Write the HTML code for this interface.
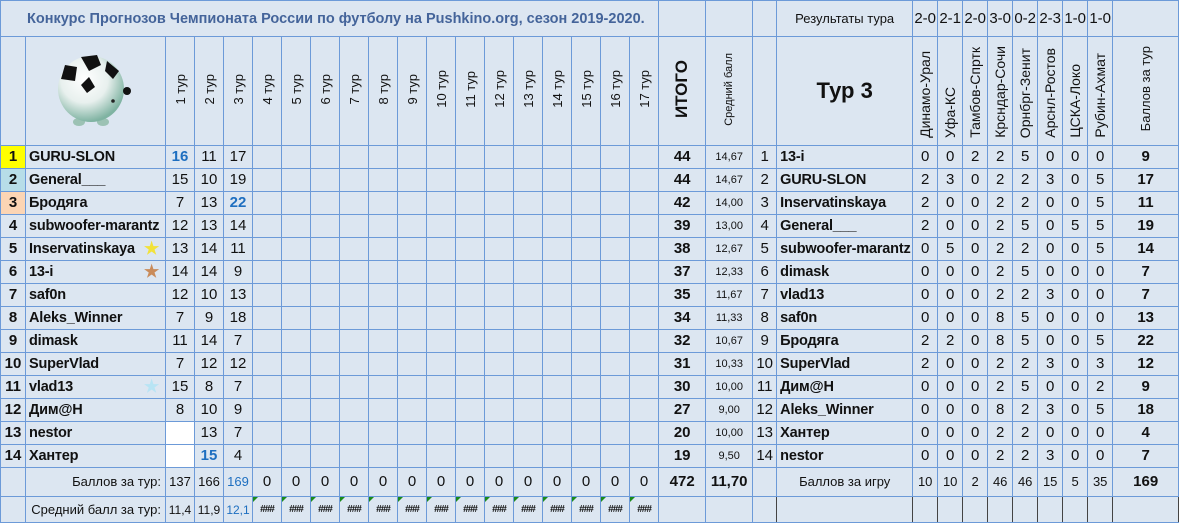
<!DOCTYPE html>
<html><head><meta charset="utf-8">
<style>
body{margin:0;background:#fff;width:1182px;height:526px;overflow:hidden;font-family:"Liberation Sans",Arial,sans-serif;}
table{border-collapse:collapse;table-layout:fixed;width:1178px;background:#dce6f1;position:absolute;left:0;top:0px;}
td{border:1px solid #6c9ad8;padding:0;text-align:center;font-size:15px;color:#111;white-space:nowrap;overflow:hidden;height:22px;line-height:22px;}
td.n{text-align:left;font-weight:bold;padding-left:3px;position:relative;font-size:14.5px;letter-spacing:-0.2px}
td.rk{font-weight:bold}
td.b{font-weight:bold}
td.bl{color:#1e6fc0;font-weight:bold}
td.a{font-size:11px}
td.n2{text-align:left;font-weight:bold;padding-left:3px;font-size:14.5px;letter-spacing:-0.2px}
.v{writing-mode:vertical-rl;transform:rotate(180deg);display:inline-block;font-size:13px;}
tr.h td{height:105px;line-height:normal}
td.mh{vertical-align:bottom;padding-bottom:3px}
.star{position:absolute;right:6px;top:2px;font-size:17px;line-height:17px}
td.hash{position:relative;font-size:10px;font-weight:bold;letter-spacing:-1px}
td.hash:before{content:"";position:absolute;left:0;top:0;border-top:5px solid #1a8a1a;border-right:5px solid transparent}
td.dk{border-left:1px solid #444;border-right:1px solid #444}
</style></head><body>
<table>
<colgroup>
<col style="width:25px"><col style="width:140px">
<col style="width:29px"><col style="width:29px"><col style="width:29px"><col style="width:29px"><col style="width:29px"><col style="width:29px"><col style="width:29px"><col style="width:29px"><col style="width:29px"><col style="width:29px"><col style="width:29px"><col style="width:29px"><col style="width:29px"><col style="width:29px"><col style="width:29px"><col style="width:29px"><col style="width:29px">
<col style="width:47px"><col style="width:47px"><col style="width:24px"><col style="width:136px">
<col style="width:25px"><col style="width:25px"><col style="width:25px"><col style="width:25px"><col style="width:25px"><col style="width:25px"><col style="width:25px"><col style="width:25px">
<col style="width:66px">
</colgroup>
<tr style="height:36px"><td colspan="19" style="height:35px;text-align:left;padding-left:26px;font-weight:bold;color:#44649a;font-size:14.5px">Конкурс Прогнозов Чемпионата России по футболу на Pushkino.org, сезон 2019-2020.</td><td></td><td></td><td></td><td style="font-size:13px">Результаты тура</td><td>2-0</td><td>2-1</td><td>2-0</td><td>3-0</td><td>0-2</td><td>2-3</td><td>1-0</td><td>1-0</td><td></td></tr>
<tr class="h"><td></td><td><svg width="90" height="80" viewBox="0 0 90 80"><defs><radialGradient id="g" cx="40%" cy="35%" r="65%"><stop offset="0" stop-color="#ffffff"/><stop offset="0.55" stop-color="#e8f0ee"/><stop offset="1" stop-color="#7fb3a2"/></radialGradient></defs><ellipse cx="28" cy="73" rx="6" ry="4" fill="#9cc2b4"/><ellipse cx="52" cy="73" rx="6" ry="4" fill="#9cc2b4"/><circle cx="40" cy="40" r="33" fill="url(#g)"/><path d="M10 30 L14 16 L26 18 L24 32 Z M30 8 L46 6 L50 16 L38 22 Z M56 12 L68 22 L62 30 L54 22 Z M30 36 L38 28 L44 38 L36 44 Z" fill="#111"/><circle cx="76" cy="42" r="4" fill="#111"/><circle cx="62" cy="52" r="1.8" fill="#222"/></svg></td>
<td><span class="v">1 тур</span></td><td><span class="v">2 тур</span></td><td><span class="v">3 тур</span></td><td><span class="v">4 тур</span></td><td><span class="v">5 тур</span></td><td><span class="v">6 тур</span></td><td><span class="v">7 тур</span></td><td><span class="v">8 тур</span></td><td><span class="v">9 тур</span></td><td><span class="v">10 тур</span></td><td><span class="v">11 тур</span></td><td><span class="v">12 тур</span></td><td><span class="v">13 тур</span></td><td><span class="v">14 тур</span></td><td><span class="v">15 тур</span></td><td><span class="v">16 тур</span></td><td><span class="v">17 тур</span></td>
<td><span class="v" style="font-size:17px;font-weight:bold">ИТОГО</span></td><td><span class="v" style="font-size:11px">Средний балл</span></td><td></td><td style="font-size:22px;font-weight:bold">Тур 3</td>
<td class="mh"><span class="v" style="font-size:14px">Динамо-Урал</span></td><td class="mh"><span class="v" style="font-size:14px">Уфа-КС</span></td><td class="mh"><span class="v" style="font-size:14px">Тамбов-Спртк</span></td><td class="mh"><span class="v" style="font-size:14px">Крсндар-Сочи</span></td><td class="mh"><span class="v" style="font-size:14px">Орнбрг-Зенит</span></td><td class="mh"><span class="v" style="font-size:14px">Арснл-Ростов</span></td><td class="mh"><span class="v" style="font-size:14px">ЦСКА-Локо</span></td><td class="mh"><span class="v" style="font-size:14px">Рубин-Ахмат</span></td><td><span class="v">Баллов за тур</span></td></tr>

<tr><td class="rk" style="background:#ffff00">1</td><td class="n">GURU-SLON</td><td class="bl">16</td><td>11</td><td>17</td><td></td><td></td><td></td><td></td><td></td><td></td><td></td><td></td><td></td><td></td><td></td><td></td><td></td><td></td><td class="b">44</td><td class="a">14,67</td><td>1</td><td class="n2">13-i</td><td>0</td><td>0</td><td>2</td><td>2</td><td>5</td><td>0</td><td>0</td><td>0</td><td class="b">9</td></tr>
<tr><td class="rk" style="background:#b7dde8">2</td><td class="n">General___</td><td>15</td><td>10</td><td>19</td><td></td><td></td><td></td><td></td><td></td><td></td><td></td><td></td><td></td><td></td><td></td><td></td><td></td><td></td><td class="b">44</td><td class="a">14,67</td><td>2</td><td class="n2">GURU-SLON</td><td>2</td><td>3</td><td>0</td><td>2</td><td>2</td><td>3</td><td>0</td><td>5</td><td class="b">17</td></tr>
<tr><td class="rk" style="background:#fcd5b4">3</td><td class="n">Бродяга</td><td>7</td><td>13</td><td class="bl">22</td><td></td><td></td><td></td><td></td><td></td><td></td><td></td><td></td><td></td><td></td><td></td><td></td><td></td><td></td><td class="b">42</td><td class="a">14,00</td><td>3</td><td class="n2">Inservatinskaya</td><td>2</td><td>0</td><td>0</td><td>2</td><td>2</td><td>0</td><td>0</td><td>5</td><td class="b">11</td></tr>
<tr><td class="rk">4</td><td class="n">subwoofer-marantz</td><td>12</td><td>13</td><td>14</td><td></td><td></td><td></td><td></td><td></td><td></td><td></td><td></td><td></td><td></td><td></td><td></td><td></td><td></td><td class="b">39</td><td class="a">13,00</td><td>4</td><td class="n2">General___</td><td>2</td><td>0</td><td>0</td><td>2</td><td>5</td><td>0</td><td>5</td><td>5</td><td class="b">19</td></tr>
<tr><td class="rk">5</td><td class="n">Inservatinskaya<span class="star" style="color:#f2e23a">★</span></td><td>13</td><td>14</td><td>11</td><td></td><td></td><td></td><td></td><td></td><td></td><td></td><td></td><td></td><td></td><td></td><td></td><td></td><td></td><td class="b">38</td><td class="a">12,67</td><td>5</td><td class="n2">subwoofer-marantz</td><td>0</td><td>5</td><td>0</td><td>2</td><td>2</td><td>0</td><td>0</td><td>5</td><td class="b">14</td></tr>
<tr><td class="rk">6</td><td class="n">13-i<span class="star" style="color:#c98b5a">★</span></td><td>14</td><td>14</td><td>9</td><td></td><td></td><td></td><td></td><td></td><td></td><td></td><td></td><td></td><td></td><td></td><td></td><td></td><td></td><td class="b">37</td><td class="a">12,33</td><td>6</td><td class="n2">dimask</td><td>0</td><td>0</td><td>0</td><td>2</td><td>5</td><td>0</td><td>0</td><td>0</td><td class="b">7</td></tr>
<tr><td class="rk">7</td><td class="n">saf0n</td><td>12</td><td>10</td><td>13</td><td></td><td></td><td></td><td></td><td></td><td></td><td></td><td></td><td></td><td></td><td></td><td></td><td></td><td></td><td class="b">35</td><td class="a">11,67</td><td>7</td><td class="n2">vlad13</td><td>0</td><td>0</td><td>0</td><td>2</td><td>2</td><td>3</td><td>0</td><td>0</td><td class="b">7</td></tr>
<tr><td class="rk">8</td><td class="n">Aleks_Winner</td><td>7</td><td>9</td><td>18</td><td></td><td></td><td></td><td></td><td></td><td></td><td></td><td></td><td></td><td></td><td></td><td></td><td></td><td></td><td class="b">34</td><td class="a">11,33</td><td>8</td><td class="n2">saf0n</td><td>0</td><td>0</td><td>0</td><td>8</td><td>5</td><td>0</td><td>0</td><td>0</td><td class="b">13</td></tr>
<tr><td class="rk">9</td><td class="n">dimask</td><td>11</td><td>14</td><td>7</td><td></td><td></td><td></td><td></td><td></td><td></td><td></td><td></td><td></td><td></td><td></td><td></td><td></td><td></td><td class="b">32</td><td class="a">10,67</td><td>9</td><td class="n2">Бродяга</td><td>2</td><td>2</td><td>0</td><td>8</td><td>5</td><td>0</td><td>0</td><td>5</td><td class="b">22</td></tr>
<tr><td class="rk">10</td><td class="n">SuperVlad</td><td>7</td><td>12</td><td>12</td><td></td><td></td><td></td><td></td><td></td><td></td><td></td><td></td><td></td><td></td><td></td><td></td><td></td><td></td><td class="b">31</td><td class="a">10,33</td><td>10</td><td class="n2">SuperVlad</td><td>2</td><td>0</td><td>0</td><td>2</td><td>2</td><td>3</td><td>0</td><td>3</td><td class="b">12</td></tr>
<tr><td class="rk">11</td><td class="n">vlad13<span class="star" style="color:#b8e4f4">★</span></td><td>15</td><td>8</td><td>7</td><td></td><td></td><td></td><td></td><td></td><td></td><td></td><td></td><td></td><td></td><td></td><td></td><td></td><td></td><td class="b">30</td><td class="a">10,00</td><td>11</td><td class="n2">Дим@Н</td><td>0</td><td>0</td><td>0</td><td>2</td><td>5</td><td>0</td><td>0</td><td>2</td><td class="b">9</td></tr>
<tr><td class="rk">12</td><td class="n">Дим@Н</td><td>8</td><td>10</td><td>9</td><td></td><td></td><td></td><td></td><td></td><td></td><td></td><td></td><td></td><td></td><td></td><td></td><td></td><td></td><td class="b">27</td><td class="a">9,00</td><td>12</td><td class="n2">Aleks_Winner</td><td>0</td><td>0</td><td>0</td><td>8</td><td>2</td><td>3</td><td>0</td><td>5</td><td class="b">18</td></tr>
<tr><td class="rk">13</td><td class="n">nestor</td><td style="background:#fff"></td><td>13</td><td>7</td><td></td><td></td><td></td><td></td><td></td><td></td><td></td><td></td><td></td><td></td><td></td><td></td><td></td><td></td><td class="b">20</td><td class="a">10,00</td><td>13</td><td class="n2">Хантер</td><td>0</td><td>0</td><td>0</td><td>2</td><td>2</td><td>0</td><td>0</td><td>0</td><td class="b">4</td></tr>
<tr><td class="rk">14</td><td class="n">Хантер</td><td style="background:#fff"></td><td class="bl">15</td><td>4</td><td></td><td></td><td></td><td></td><td></td><td></td><td></td><td></td><td></td><td></td><td></td><td></td><td></td><td></td><td class="b">19</td><td class="a">9,50</td><td>14</td><td class="n2">nestor</td><td>0</td><td>0</td><td>0</td><td>2</td><td>2</td><td>3</td><td>0</td><td>0</td><td class="b">7</td></tr>
<tr style="height:29px"><td style="height:28px"></td><td style="text-align:right;padding-right:4px;font-size:13px">Баллов за тур:</td><td style="font-size:13px">137</td><td style="font-size:13px">166</td><td style="font-size:13px;color:#1e6fc0">169</td><td>0</td><td>0</td><td>0</td><td>0</td><td>0</td><td>0</td><td>0</td><td>0</td><td>0</td><td>0</td><td>0</td><td>0</td><td>0</td><td>0</td><td class="b">472</td><td class="b">11,70</td><td></td><td style="font-size:13px">Баллов за игру</td><td style="font-size:13px">10</td><td style="font-size:13px">10</td><td style="font-size:13px">2</td><td style="font-size:13px">46</td><td style="font-size:13px">46</td><td style="font-size:13px">15</td><td style="font-size:13px">5</td><td style="font-size:13px">35</td><td class="b">169</td></tr>
<tr style="height:26px"><td style="height:25px"></td><td style="text-align:right;padding-right:4px;font-size:13px">Средний балл за тур:</td><td style="font-size:12px">11,4</td><td style="font-size:12px">11,9</td><td style="font-size:12px;color:#1e6fc0">12,1</td><td class="hash">###</td><td class="hash">###</td><td class="hash">###</td><td class="hash">###</td><td class="hash">###</td><td class="hash">###</td><td class="hash">###</td><td class="hash">###</td><td class="hash">###</td><td class="hash">###</td><td class="hash">###</td><td class="hash">###</td><td class="hash">###</td><td class="hash">###</td><td></td><td></td><td class="dk"></td><td class="dk"></td><td class="dk"></td><td class="dk"></td><td class="dk"></td><td class="dk"></td><td class="dk"></td><td class="dk"></td><td class="dk"></td><td class="dk"></td><td class="dk"></td></tr>
</table>
</body></html>
